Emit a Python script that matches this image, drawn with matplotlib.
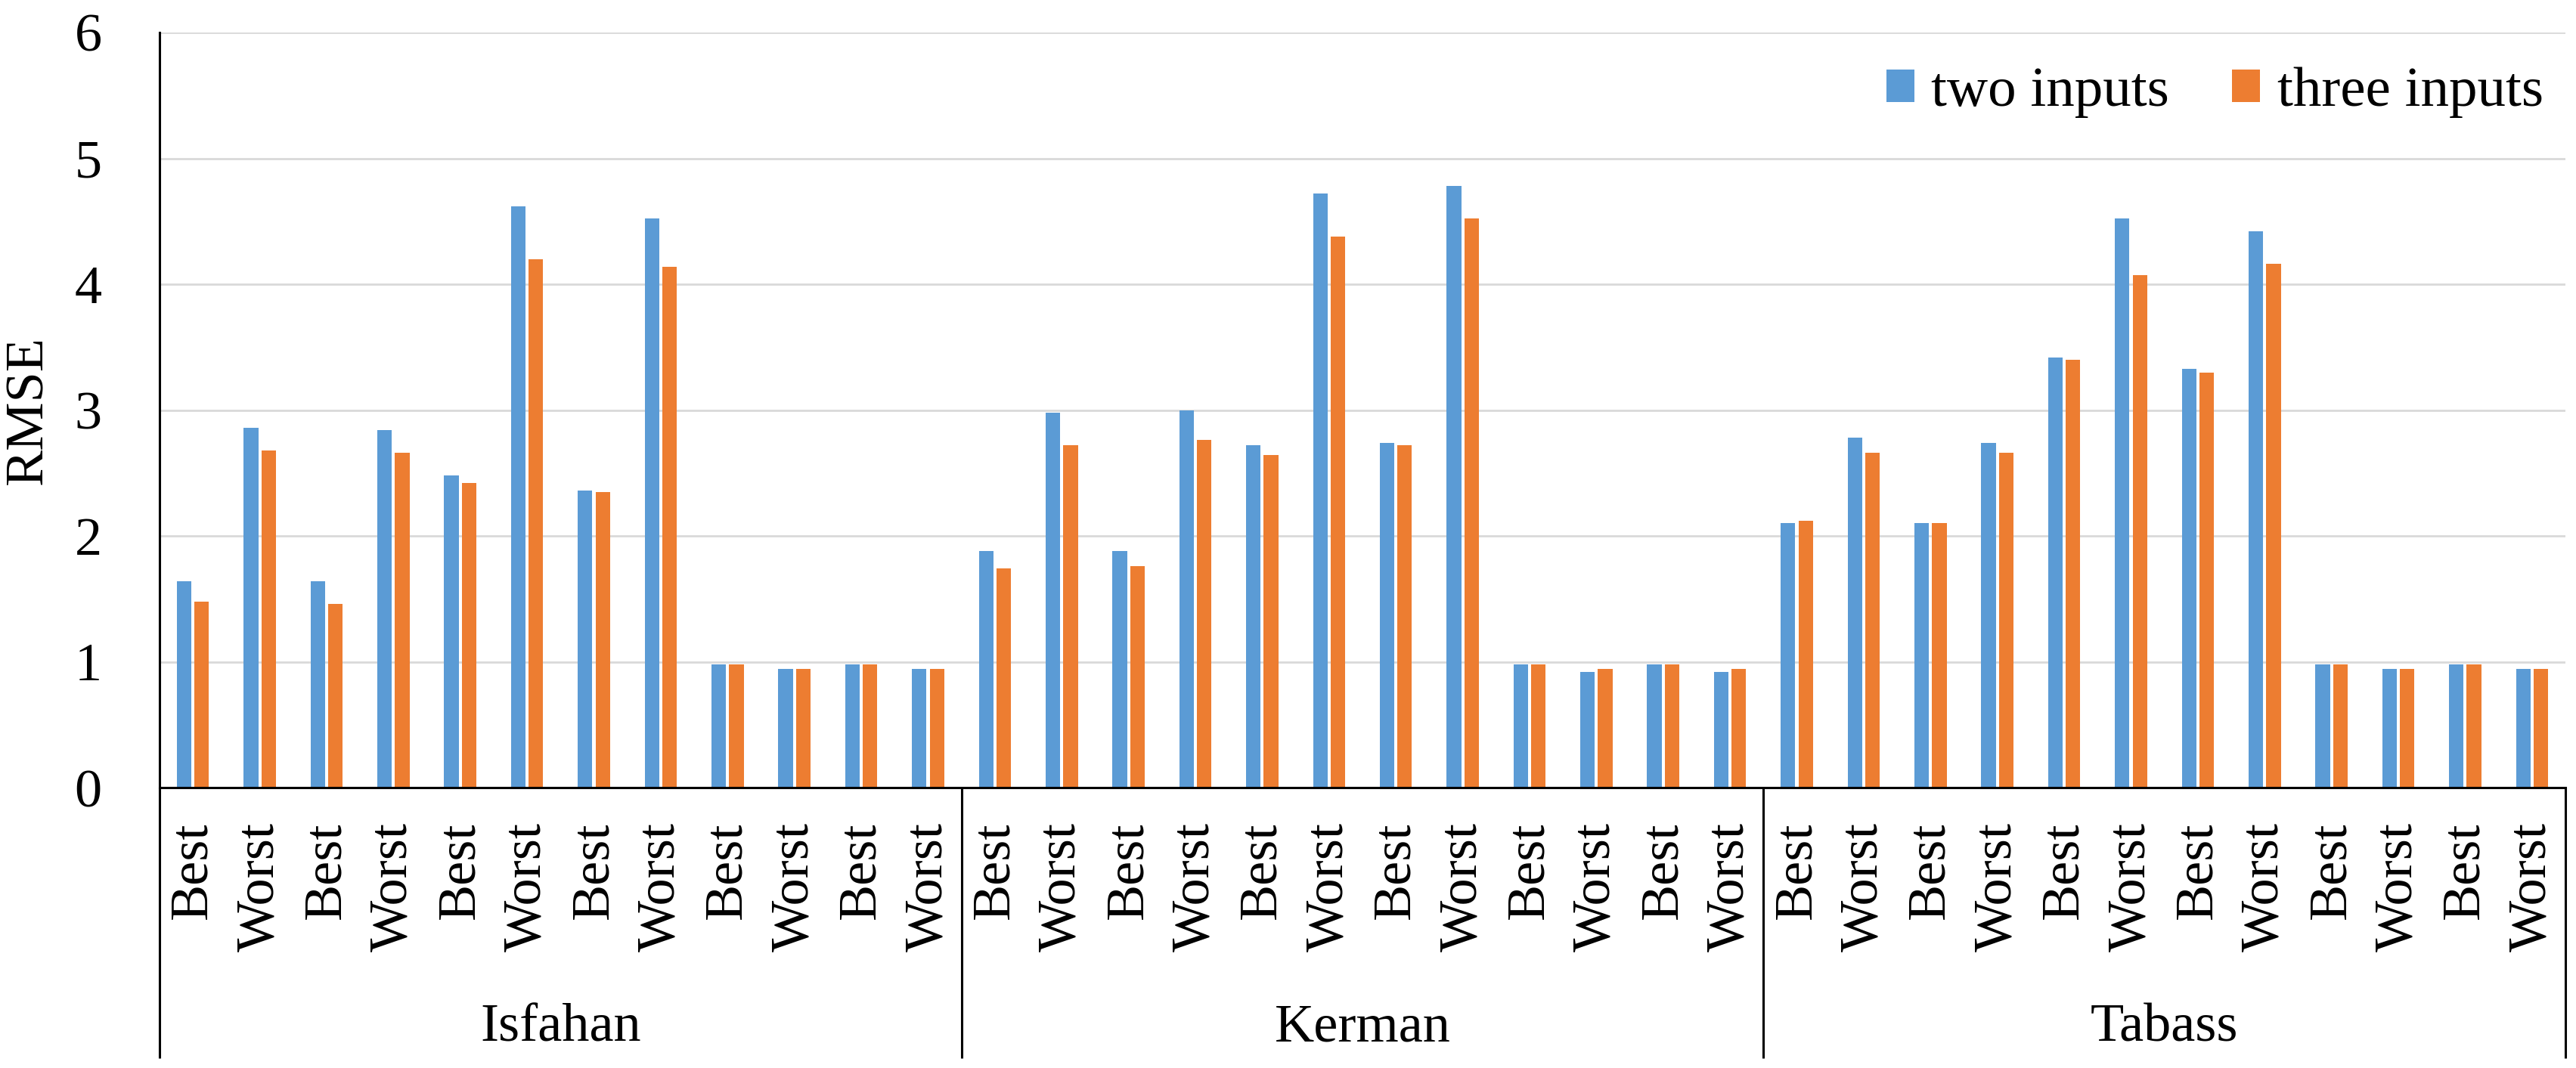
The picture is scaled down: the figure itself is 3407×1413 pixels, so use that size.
import matplotlib
matplotlib.use("Agg")
import matplotlib.pyplot as plt
import matplotlib.transforms as mtransforms
import numpy as np

plt.rcParams['font.family'] = ['Liberation Serif', 'DejaVu Serif']

groups = ["Isfahan", "Kerman", "Tabass"]
case_labels = ["Best", "Worst"] * 6
two_inputs = [
    1.64, 2.86, 1.64, 2.84, 2.48, 4.62, 2.36, 4.52, 0.98, 0.94, 0.98, 0.94,
    1.88, 2.98, 1.88, 3.00, 2.72, 4.72, 2.74, 4.78, 0.98, 0.92, 0.98, 0.92,
    2.10, 2.78, 2.10, 2.74, 3.42, 4.52, 3.33, 4.42, 0.98, 0.94, 0.98, 0.94,
]
three_inputs = [
    1.48, 2.68, 1.46, 2.66, 2.42, 4.20, 2.35, 4.14, 0.98, 0.94, 0.98, 0.94,
    1.74, 2.72, 1.76, 2.76, 2.64, 4.38, 2.72, 4.52, 0.98, 0.94, 0.98, 0.94,
    2.12, 2.66, 2.10, 2.66, 3.40, 4.07, 3.30, 4.16, 0.98, 0.94, 0.98, 0.94,
]
series_names = ["two inputs", "three inputs"]
colors = ["#5B9BD5", "#ED7D31"]

W, H = 3407, 1413
fig = plt.figure(figsize=(W / 100, H / 100), dpi=100)
ax_left, ax_right = 211 / W, 3393 / W
ax_bottom, ax_top = 1 - 1042 / H, 1 - 43 / H
ax = fig.add_axes([ax_left, ax_bottom, ax_right - ax_left, ax_top - ax_bottom])

n_per_group = len(case_labels)
x = np.arange(len(groups) * n_per_group)
bw = 0.218
off = 0.132
ax.bar(x - off, two_inputs, width=bw, color=colors[0], label=series_names[0], zorder=3)
ax.bar(x + off, three_inputs, width=bw, color=colors[1], label=series_names[1], zorder=3)

ax.set_xlim(-0.5, len(x) - 0.5)
ax.set_ylim(0, 6)
ax.set_yticks(np.arange(0, 7, 1))
ax.yaxis.grid(True, color="#d9d9d9", linewidth=2.0, zorder=0)
ax.set_axisbelow(True)

fs = 52
ax.set_xticks(x)
ax.set_xticklabels(case_labels * len(groups), rotation=90, fontsize=fs, va="top", ha="center")
ax.tick_params(axis="x", length=0, pad=33)
ax.tick_params(axis="y", length=0, pad=55, labelsize=fs)

for s in ["top", "right"]:
    ax.spines[s].set_visible(False)
ax.spines["left"].set_linewidth(2.2)
ax.spines["bottom"].set_linewidth(2.2)
ax.spines["left"].set_zorder(4)
ax.spines["bottom"].set_zorder(4)

ax.set_ylabel("RMSE", fontsize=fs)
ax.yaxis.set_label_coords(38 / W, 0.5,
                          transform=mtransforms.blended_transform_factory(fig.transFigure, ax.transAxes))
ax.yaxis.label.set_verticalalignment("center")
ax.yaxis.label.set_horizontalalignment("center")

trans = mtransforms.blended_transform_factory(ax.transData, ax.transAxes)
ax_h_px = 1042 - 43
y_bot = -(1400 - 1042) / ax_h_px
for k in range(len(groups) + 1):
    xs = k * n_per_group - 0.5
    ax.plot([xs, xs], [0, y_bot], transform=trans, color="black", linewidth=2.2,
            clip_on=False, zorder=5, solid_capstyle="butt")
y_grp = -(1377 - 1042) / ax_h_px
for k, g in enumerate(groups):
    xc = k * n_per_group + (n_per_group - 1) / 2
    ax.text(xc, y_grp, g, transform=trans, ha="center", va="baseline", fontsize=fs)

leg = ax.legend(loc="center right", bbox_to_anchor=(3364 / W, 1 - 122 / H),
                bbox_transform=fig.transFigure, ncol=2, frameon=False, fontsize=54,
                handlelength=0.5, handleheight=0.5, handletextpad=0.3,
                columnspacing=1.1, borderpad=0, borderaxespad=0)

fig.savefig("out.png", dpi=100, facecolor="white")
